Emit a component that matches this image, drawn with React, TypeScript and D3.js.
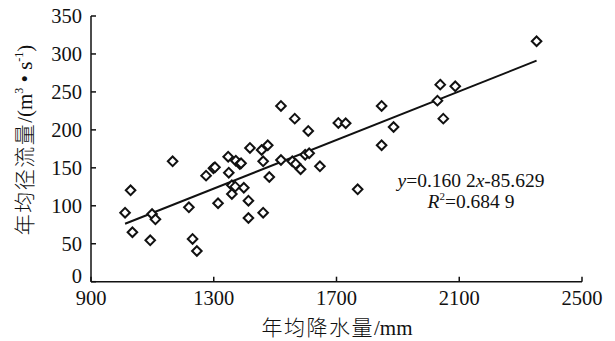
import React from "react";
import * as d3 from "d3";

const precipitation = [1166,1029,1011,1035,1093,1099,1110,1219,1231,1245,1275,1299,1304,1314,1347,1349,1359,1370,1359,1372,1385,1389,1398,1413,1413,1418,1456,1476,1461,1481,1461,1519,1556,1567,1583,1598,1611,1646,1519,1564,1608,1706,1730,2352,2038,2087,2029,2048,1847,1886,1847,1769];
const runoff = [158.6,120.4,90.9,65.1,54.5,89.2,82.2,98,56.3,40.4,139.7,149.4,150.7,103.3,164.7,143.6,127,125.2,115.5,159.4,155.1,156,123.8,106.7,83.9,176.2,173.5,179.7,158.6,137.9,90.9,160.3,158.6,155.1,148.1,167.3,169.2,152,231.5,214.8,198.6,209.1,208.7,316.7,259.6,257.4,238.5,214.8,231.5,203.8,179.7,121.7];
const xTicks = [900, 1300, 1700, 2100, 2500];
const yTicks = [0, 50, 100, 150, 200, 250, 300, 350];
const slope = 0.1602;
const intercept = -85.629;

const W = 615, H = 341;
const m = { left: 91, right: 582, top: 16, bottom: 281.7 };
const FONT = "'Liberation Serif', 'Times New Roman', 'Noto Sans CJK SC', serif";

export default function App() {
  const x = d3.scaleLinear().domain([900, 2500]).range([m.left, m.right]);
  const y = d3.scaleLinear().domain([0, 350]).range([m.bottom, m.top]);
  const pts = precipitation.map((p, i) => [p, runoff[i]] as [number, number]);
  const [x0, x1] = d3.extent(precipitation) as [number, number];
  const line = d3.line<number>().x((d) => x(d)).y((d) => y(slope * d + intercept));
  const r = 4.8;
  const diamond = `M0,${-r}L${r},0L0,${r}L${-r},0Z`;
  return (
    <svg width={W} height={H} style={{ position: "absolute", left: 0, top: 0, background: "#fff" }} fontFamily={FONT}>
      <rect width={W} height={H} fill="#fff" />
      <line x1={m.left} x2={m.left} y1={m.top} y2={m.bottom} stroke="#111" strokeWidth={1.5} />
      <line x1={m.left} x2={m.right} y1={m.bottom} y2={m.bottom} stroke="#111" strokeWidth={1.5} />
      {yTicks.map((t) => (
        <g key={"y" + t}>
          <line x1={m.left} x2={m.left + 5} y1={y(t)} y2={y(t)} stroke="#111" strokeWidth={1.5} />
          <text x={82} y={y(t) - (t === 0 ? 6 : 0)} dy="0.34em" textAnchor="end" fontSize={20.5} fill="#111">{t}</text>
        </g>
      ))}
      {xTicks.map((t) => (
        <g key={"x" + t}>
          <line x1={x(t)} x2={x(t)} y1={m.bottom} y2={m.bottom - 5} stroke="#111" strokeWidth={1.5} />
          <text x={x(t)} y={305} textAnchor="middle" fontSize={20.5} fill="#111">{t}</text>
        </g>
      ))}
      <path d={line([x0, x1]) || ""} fill="none" stroke="#111" strokeWidth={2} />
      {pts.map((d, i) => (
        <path key={i} d={diamond} transform={`translate(${x(d[0])},${y(d[1])})`} fill="#fff" stroke="#111" strokeWidth={2} />
      ))}
      <text x={471} y={187} textAnchor="middle" fontSize={19.5} fill="#111">
        <tspan fontStyle="italic">y</tspan>=0.160 2<tspan fontStyle="italic">x</tspan>-85.629
      </text>
      <text x={471} y={208} textAnchor="middle" fontSize={19.5} fill="#111">
        <tspan fontStyle="italic">R</tspan><tspan fontSize={11} dy={-8}>2</tspan><tspan dy={8}>=0.684 9</tspan>
      </text>
      <text x={337} y={335} textAnchor="middle" fontSize={21} fill="#111">
        <tspan fontWeight={300} letterSpacing={1.5}>年均降水量</tspan>/mm
      </text>
      <text transform="translate(32,140) rotate(-90)" textAnchor="middle" fontSize={21} fill="#111">
        <tspan fontWeight={300} letterSpacing={1.5}>年均径流量</tspan>/(m<tspan fontSize={12} dy={-9}>3</tspan><tspan dy={9}> • s</tspan><tspan fontSize={12} dy={-9}>-1</tspan><tspan dy={9}>)</tspan>
      </text>
    </svg>
  );
}
